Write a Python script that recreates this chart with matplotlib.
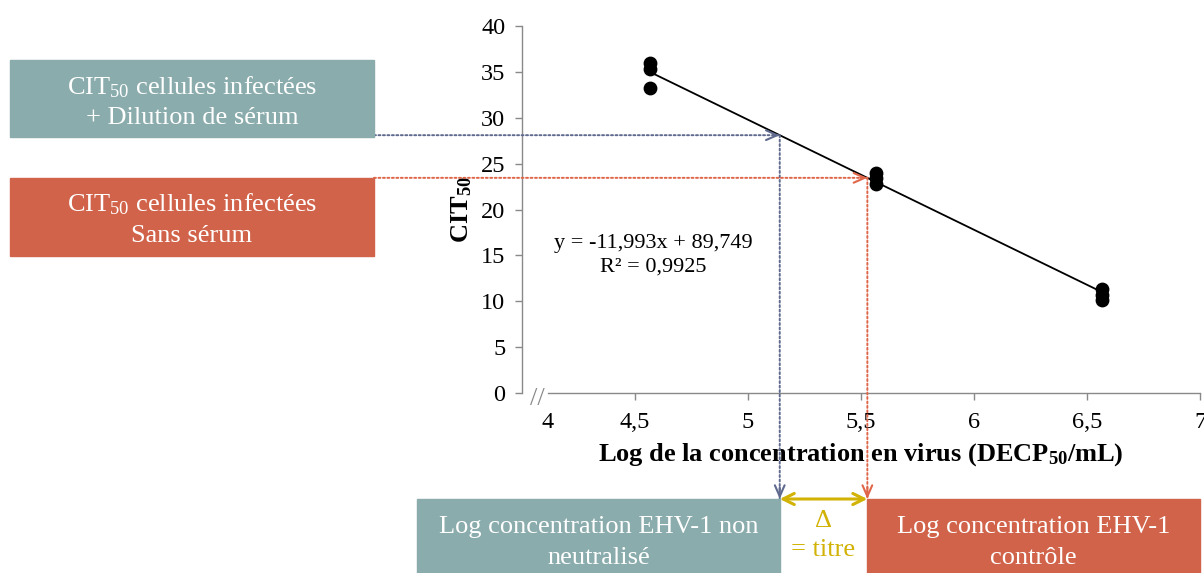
import matplotlib
matplotlib.use("Agg")
import matplotlib.pyplot as plt
import numpy as np
from matplotlib.patches import Rectangle
import matplotlib.transforms as mtransforms

plt.rcParams['font.family'] = ['Liberation Serif', 'DejaVu Serif']
plt.rcParams['mathtext.fontset'] = 'custom'
plt.rcParams['mathtext.rm'] = 'Liberation Serif'
plt.rcParams['mathtext.it'] = 'Liberation Serif:italic'
plt.rcParams['mathtext.bf'] = 'Liberation Serif:bold'

# ---- data ----
log_conc = [4.565, 4.565, 4.565, 5.565, 5.565, 5.565, 6.565, 6.565, 6.565]
cit50 = [36.0, 35.3, 33.2, 24.0, 23.4, 22.8, 11.3, 10.7, 10.1]
slope = -11.993
intercept = 89.749
r2 = 0.9925
x_ticks = [4, 4.5, 5, 5.5, 6, 6.5, 7]
x_tick_labels = ["4", "4,5", "5", "5,5", "6", "6,5", "7"]
y_ticks = [0, 5, 10, 15, 20, 25, 30, 35, 40]
cit_serum = 28.1      # CIT50 infected cells + serum dilution
cit_control = 23.45   # CIT50 infected cells without serum

W, H = 1204, 573
fig = plt.figure(figsize=(W / 100, H / 100), dpi=100)

def fx(x):
    return x / W

def fy(y):
    return 1 - y / H

ax = fig.add_axes([fx(522), fy(393), fx(1200) - fx(522), fy(26) - fy(393)])
ax.set_xlim(4, 7)
ax.set_ylim(0, 40)

gray = '#898989'
for s in ['top', 'right']:
    ax.spines[s].set_visible(False)
for s in ['left', 'bottom']:
    ax.spines[s].set_color(gray)
    ax.spines[s].set_linewidth(1.0)
ax.spines['bottom'].set_bounds(4.115, 7)

ax.set_xticks(x_ticks)
ax.set_xticklabels(x_tick_labels)
ax.set_yticks(y_ticks)
ax.set_yticklabels([str(v) for v in y_ticks])
ax.tick_params(axis='both', colors=gray, labelcolor='black', labelsize=17.5,
               length=5, width=1.0, direction='out')
ax.tick_params(axis='x', pad=8.5)
ax.tick_params(axis='y', pad=7)
# first x tick: no mark, label shifted to the right (broken axis)
t0 = ax.xaxis.get_major_ticks()[0]
t0.tick1line.set_visible(False)
lbl = ax.get_xticklabels()[0]
lbl.set_transform(lbl.get_transform() + mtransforms.ScaledTranslation(26 / 100, 0, fig.dpi_scale_trans))
# break mark
ax.text(4.068, -0.6, "//", transform=ax.transData, ha='center', va='center',
        fontsize=19, color=gray, clip_on=False)

# points and trendline
ax.scatter(log_conc, cit50, s=80, color='black', zorder=3, clip_on=False)
xl = np.array([min(log_conc), max(log_conc)])
ax.plot(xl, slope * xl + intercept, color='black', lw=1.3, zorder=2)

ax.text(4.58, 15.0, "y = -11,993x + 89,749\nR² = 0,9925", ha='center', va='center',
        fontsize=16, multialignment='center', linespacing=1.3)

ax.set_xlabel(r"Log de la concentration en virus (DECP$_{\mathbf{50}}$/mL)",
              fontsize=19, fontweight='bold', labelpad=6)
ax.set_ylabel(r"CIT$_{\mathbf{50}}$", fontsize=19, fontweight='bold', labelpad=5)

# ---- boxes ----
teal = '#8BACAC'
red = '#D1634A'
def box(x0, y0, x1, y1, color, lines, ys):
    fig.patches.append(Rectangle((fx(x0), fy(y1)), fx(x1) - fx(x0), fy(y0) - fy(y1),
                                 transform=fig.transFigure, color=color, zorder=0))
    for line, yl in zip(lines, ys):
        fig.text((fx(x0) + fx(x1)) / 2, fy(yl), line, ha='center', va='baseline',
                 color='white', fontsize=19)

x_serum = (cit_serum - intercept) / slope
x_control = (cit_control - intercept) / slope
px_serum = 522 + (x_serum - 4) / 3 * 678
px_control = 522 + (x_control - 4) / 3 * 678

box(10, 60, 374, 137, teal, ["CIT$_{\\mathrm{50}}$ cellules infectées", "+ Dilution de sérum"], [94, 124])
box(10, 178, 374, 256, red, ["CIT$_{\\mathrm{50}}$ cellules infectées", "Sans sérum"], [211, 242])
box(417, 499, px_serum, 573, teal, ["Log concentration EHV-1 non", "neutralisé"], [533, 564])
box(px_control, 499, 1200, 573, red, ["Log concentration EHV-1", "contrôle"], [533, 564])

# ---- dotted guide lines with arrow heads ----
blue_c = '#5F6A8E'
red_c = '#E0664A'
dots = (0, (1, 1.3))
bottom_y = fy(499)

def guide(xd, yd, color):
    # horizontal line: from box edge to data point
    ax.annotate('', xy=(xd, yd), xycoords='data', xytext=(fx(374), yd),
                textcoords=('figure fraction', 'data'),
                arrowprops=dict(arrowstyle='-', color=color, lw=1.4, linestyle=dots,
                                shrinkA=0, shrinkB=0), annotation_clip=False)
    ax.annotate('', xy=(xd, yd), xycoords='data', xytext=(xd - 0.03, yd),
                arrowprops=dict(arrowstyle='->,head_length=0.8,head_width=0.35', color=color, lw=1.5,
                                shrinkA=0, shrinkB=0), annotation_clip=False)
    ax.annotate('', xy=(xd, bottom_y), xycoords=('data', 'figure fraction'), xytext=(xd, yd),
                textcoords='data',
                arrowprops=dict(arrowstyle='-', color=color, lw=1.4, linestyle=dots,
                                shrinkA=0, shrinkB=0), annotation_clip=False)
    ax.annotate('', xy=(xd, bottom_y), xycoords=('data', 'figure fraction'),
                xytext=(xd, bottom_y + 0.02), textcoords=('data', 'figure fraction'),
                arrowprops=dict(arrowstyle='->,head_length=0.8,head_width=0.35', color=color, lw=1.5,
                                shrinkA=0, shrinkB=0), annotation_clip=False)

guide(x_serum, cit_serum, blue_c)
guide(x_control, cit_control, red_c)

# ---- delta arrow ----
yellow = '#D2B204'
ax.annotate('', xy=(x_control, bottom_y), xycoords=('data', 'figure fraction'),
            xytext=(x_serum, bottom_y), textcoords=('data', 'figure fraction'),
            arrowprops=dict(arrowstyle='<->,head_length=0.8,head_width=0.4', color=yellow, lw=2.2,
                            shrinkA=0, shrinkB=0), annotation_clip=False)
xm = fx((px_serum + px_control) / 2)
fig.text(xm, fy(527), "Δ", ha='center', va='baseline', color=yellow, fontsize=19)
fig.text(xm, fy(556), "= titre", ha='center', va='baseline', color=yellow, fontsize=19)

fig.savefig("out.png", dpi=100)
